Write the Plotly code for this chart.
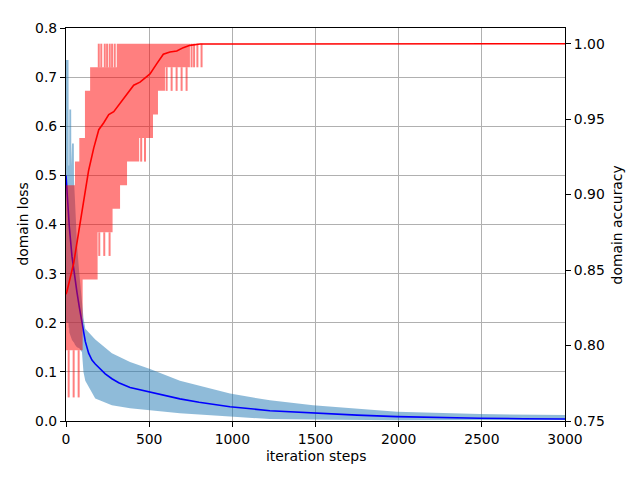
import plotly.graph_objects as go

# ---------------- data ----------------
# smoothed domain loss
loss_x = [0, 6, 20, 36, 50, 66, 80, 96, 116, 136, 156, 176, 206, 236, 276, 317, 385, 437, 505, 600, 685, 800, 986, 1226, 1485, 1750, 1990, 2250, 2489, 2750, 3000]
loss_smooth = [0.50, 0.46, 0.395, 0.335, 0.295, 0.262, 0.232, 0.20, 0.162, 0.138, 0.124, 0.116, 0.105, 0.096, 0.086, 0.078, 0.068, 0.064, 0.058, 0.051, 0.045, 0.038, 0.029, 0.021, 0.016, 0.012, 0.009, 0.007, 0.0055, 0.0047, 0.004]

# raw domain loss envelope (upper / lower edge of the oscillating band)
loss_env_x = [0, 15, 16, 19, 20, 31, 32, 36, 47, 48, 54, 66, 80, 96, 105, 116, 176, 276, 385, 505, 685, 986, 1226, 1485, 1990, 2489, 3000]
loss_upper = [0.735, 0.735, 0.52, 0.52, 0.634, 0.634, 0.52, 0.565, 0.565, 0.49, 0.45, 0.36, 0.30, 0.24, 0.21, 0.188, 0.166, 0.138, 0.120, 0.106, 0.082, 0.056, 0.042, 0.032, 0.019, 0.014, 0.012]
loss_lower = [0.20, 0.20, 0.19, 0.19, 0.18, 0.17, 0.17, 0.165, 0.16, 0.16, 0.155, 0.15, 0.148, 0.14, 0.10, 0.082, 0.046, 0.032, 0.026, 0.022, 0.016, 0.009, 0.004, 0.003, 0.0015, 0.002, 0.002]

# smoothed domain accuracy
acc_x = [0, 6, 46, 76, 106, 136, 167, 197, 227, 257, 287, 326, 367, 407, 445, 505, 545, 585, 625, 666, 705, 745, 806, 3000]
acc_smooth = [0.834, 0.836, 0.8545, 0.876, 0.8957, 0.916, 0.931, 0.943, 0.9476, 0.953, 0.955, 0.9606, 0.966, 0.9725, 0.9745, 0.980, 0.9866, 0.993, 0.9945, 0.9952, 0.9974, 0.9989, 0.9998, 1.0]

# raw domain accuracy band (step edges, batch accuracy levels)
acc_up_x = [0, 54, 80, 114, 145, 305, 3000]
acc_upper = [0.90625, 0.921875, 0.9375, 0.96875, 0.984375, 1.0, 1.0]
acc_lo_x = [0, 100, 190, 280, 325, 367, 440, 523, 553, 595, 745, 3000]
acc_lower = [0.796875, 0.84375, 0.875, 0.890625, 0.90625, 0.921875, 0.9375, 0.953125, 0.96875, 0.984375, 1.0, 1.0]

# single-step spikes of raw accuracy
spike_x = [16, 46, 76, 200, 230, 262, 452, 475, 605, 635, 665, 695, 725, 755, 770, 790, 815,
           197, 212, 233, 247, 263, 277, 293]
spike_lo = [0.765625, 0.765625, 0.765625, 0.859375, 0.859375, 0.859375, 0.921875, 0.921875,
            0.96875, 0.96875, 0.96875, 0.96875, 0.96875, 0.984375, 0.984375, 0.984375, 0.984375,
            0.984375, 0.984375, 0.984375, 0.984375, 0.984375, 0.984375, 0.984375]
spike_hi = [0.796875, 0.796875, 0.796875, 0.875, 0.875, 0.875, 0.9375, 0.9375,
            0.984375, 0.984375, 0.984375, 0.984375, 0.984375, 1.0, 1.0, 1.0, 1.0,
            1.0, 1.0, 1.0, 1.0, 1.0, 1.0, 1.0]

x_ticks = [0, 500, 1000, 1500, 2000, 2500, 3000]
loss_ticks = [0.0, 0.1, 0.2, 0.3, 0.4, 0.5, 0.6, 0.7, 0.8]
acc_ticks = [0.75, 0.80, 0.85, 0.90, 0.95, 1.00]

# ---------------- figure ----------------
BLUE_RAW = "rgba(31,119,180,0.5)"
RED_RAW = "rgba(255,0,0,0.5)"

fig = go.Figure()

# raw loss band
fig.add_trace(go.Scatter(x=loss_env_x, y=loss_lower, mode="lines", line=dict(width=0),
                         hoverinfo="skip", showlegend=False))
fig.add_trace(go.Scatter(x=loss_env_x, y=loss_upper, mode="lines", line=dict(width=0),
                         fill="tonexty", fillcolor=BLUE_RAW, hoverinfo="skip", showlegend=False))
# smoothed loss
fig.add_trace(go.Scatter(x=loss_x, y=loss_smooth, mode="lines", line=dict(color="blue", width=1.6),
                         showlegend=False))

# raw accuracy band
fig.add_trace(go.Scatter(x=acc_lo_x, y=acc_lower, mode="lines", line=dict(width=0, shape="hv"),
                         yaxis="y2", hoverinfo="skip", showlegend=False))
fig.add_trace(go.Scatter(x=acc_up_x, y=acc_upper, mode="lines", line=dict(width=0, shape="hv"),
                         fill="tonexty", fillcolor=RED_RAW, yaxis="y2", hoverinfo="skip", showlegend=False))
# spikes
sx, sy = [], []
for x, lo, hi in zip(spike_x, spike_lo, spike_hi):
    sx += [x, x, None]
    sy += [lo, hi, None]
fig.add_trace(go.Scatter(x=sx, y=sy, mode="lines", line=dict(color=RED_RAW, width=2),
                         yaxis="y2", hoverinfo="skip", showlegend=False))
# smoothed accuracy
fig.add_trace(go.Scatter(x=acc_x, y=acc_smooth, mode="lines", line=dict(color="red", width=1.6),
                         yaxis="y2", showlegend=False))

font = dict(family="DejaVu Sans", size=13.9, color="black")
axis_common = dict(showline=True, linecolor="black", linewidth=1.1, ticks="outside", ticklen=5,
                   tickwidth=1.1, tickcolor="black", tickfont=font, zeroline=False)

# the page body adds an 8px offset, so the left/top margins are reduced by 8px
fig.update_layout(
    width=640, height=480,
    margin=dict(l=58, r=83, t=12, b=67, pad=0),
    plot_bgcolor="white", paper_bgcolor="white",
    font=font,
    xaxis=dict(range=[0, 3000], tickvals=x_ticks, ticktext=[str(v) for v in x_ticks],
               showgrid=True, gridcolor="#b0b0b0", gridwidth=1.1, mirror=True, **axis_common),
    yaxis=dict(range=[0, 0.8], tickvals=loss_ticks, ticktext=[f"{v:.1f}" for v in loss_ticks],
               showgrid=True, gridcolor="#b0b0b0", gridwidth=1.1, **axis_common),
    yaxis2=dict(range=[0.75, 1.0104], tickvals=acc_ticks, ticktext=[f"{v:.2f}" for v in acc_ticks],
                overlaying="y", side="right", showgrid=False, **axis_common),
    annotations=[
        dict(text="iteration steps", x=0.5, y=-0.09, xref="paper", yref="paper",
             xanchor="center", yanchor="middle", showarrow=False, font=font),
        dict(text="domain loss", x=-0.088, y=0.5, xref="paper", yref="paper", textangle=-90,
             xanchor="center", yanchor="middle", showarrow=False, font=font),
        dict(text="domain accuracy", x=1.104, y=0.5, xref="paper", yref="paper", textangle=-90,
             xanchor="center", yanchor="middle", showarrow=False, font=font),
    ],
)

fig.write_html("out.html")
